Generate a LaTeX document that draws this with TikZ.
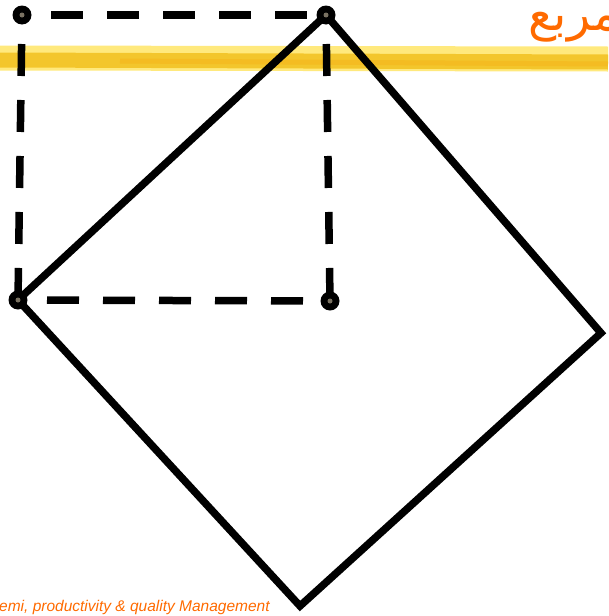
\documentclass[tikz,border=0pt]{standalone}
\usepackage{fontspec}
\usepackage{tikz}
\usepackage{xcolor}
\usetikzlibrary{calc}
\TeXXeTstate=1
\newfontfamily\arabicfont[Script=Arabic]{DejaVu Sans}
\newfontfamily\footfont{Liberation Sans}
\definecolor{titleorange}{HTML}{FF6A00}
\definecolor{markerlight}{HTML}{FFE45C}
\definecolor{markercore}{HTML}{F2C01E}
\definecolor{dotcore}{HTML}{7A7262}
\tikzset{
  edge/.style   = {line width=7.5pt, line join=miter},
  guide/.style  = {line width=7.5pt, dash pattern=on 32pt off 24pt, dash phase=27pt},
  corner/.style = {circle, fill=black, inner sep=0pt, minimum size=19pt,
                   path picture={\fill[dotcore] (path picture bounding box.center) circle (2.5pt);}},
  marker/.style = {line width=#1, line cap=butt},
  every node/.style = {inner sep=0pt}
}

\begin{document}
\begin{tikzpicture}[x=1pt, y=-1pt]
\clip (0,0) rectangle (608,616);

% highlighter stroke under the title
\draw[marker=25pt, markerlight, opacity=.8] (0,58) -- (608,59);
\draw[marker=15pt, markercore, opacity=.85] (0,60) -- (608,62);
\draw[marker=5pt, markercore!80!orange, opacity=.5] (120,61) -- (608,64);

% corners
\coordinate (tl) at (22,15);
\coordinate (tr) at (326,15);
\coordinate (bl) at (18,300);
\coordinate (br) at (330,301);
\coordinate (dr) at (601,333);
\coordinate (db) at (300,606);

% the tilted square
\draw[edge] (tr) -- (dr) -- (db) -- (bl) -- cycle;

% the dashed square
\draw[guide] (tl) -- (tr);
\draw[guide] (tl) -- (bl);
\draw[guide] (bl) -- (br);
\draw[guide] (tr) -- (br);

\node[corner] (p1) at (tl) {};
\node[corner] (p2) at (tr) {};
\node[corner] (p3) at (bl) {};
\node[corner] (p4) at (br) {};

\node[anchor=base west, text=titleorange, font=\arabicfont\fontsize{48}{52}\selectfont] (title) at (528,30) {\beginR مربع\endR};
\node[anchor=base west, text=titleorange, font=\footfont\itshape\fontsize{15.5}{17}\selectfont] (foot) at (-1,611) {emi, productivity \& quality Management};
\end{tikzpicture}
\end{document}
